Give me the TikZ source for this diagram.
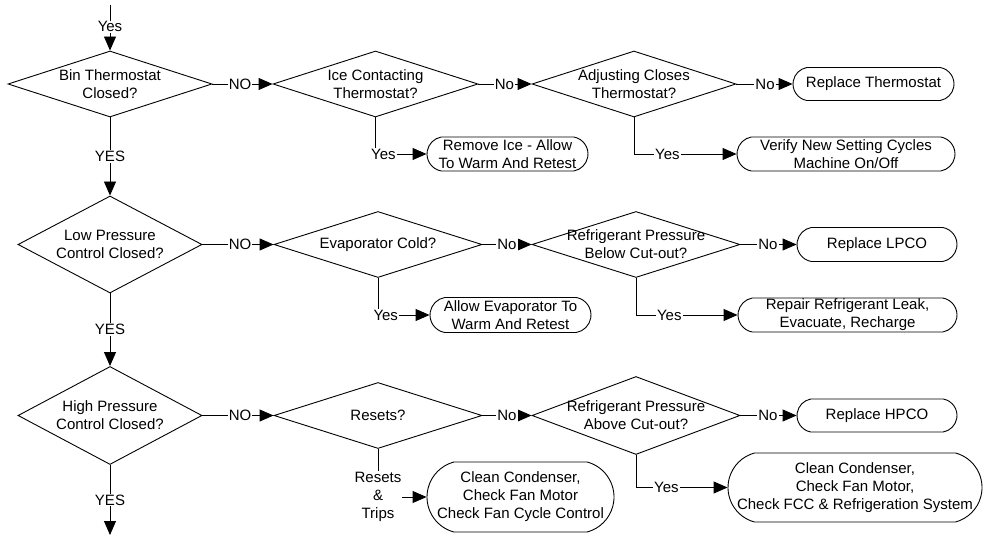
\documentclass[tikz,border=0pt]{standalone}
\usepackage{fontspec}
\setmainfont{Liberation Sans}
\usetikzlibrary{shapes.geometric,shapes.misc,arrows.meta}
\begin{document}
\begin{tikzpicture}[x=1pt,y=-1pt,
  every node/.style={font=\fontsize{15}{18}\selectfont},
  line width=0.9pt,
  decision/.style 2 args={diamond, draw, inner sep=0pt,
    minimum width=#1pt, minimum height=#2pt},
  term/.style 2 args={rounded rectangle, rounded rectangle arc length=160,
    draw, inner sep=0pt, minimum width=#1pt, minimum height=#2pt},
  bigterm/.style 2 args={term={#1}{#2}, rounded rectangle arc length=150},
  qtext/.style={align=center, inner sep=0pt},
  lbl/.style={fill=white, inner sep=1pt, align=center},
  arr/.style={-{Triangle[length=14pt,width=12pt]}}
]
\useasboundingbox (0,0) rectangle (985,537);

% ---- Bin thermostat row ----
\node[decision={204}{66}, label={[qtext]center:{Bin Thermostat\\Closed?}}] (d1) at (110,84) {};
\node[decision={205}{66}, label={[qtext]center:{Ice Contacting\\Thermostat?}}] (d2) at (375.5,84) {};
\node[decision={204}{66}, label={[qtext]center:{Adjusting Closes\\Thermostat?}}] (d3) at (634,84) {};
\node[term={161}{33}, label={[qtext]center:{Replace Thermostat}}] (rth) at (873.5,84) {};
\node[term={161}{34}, label={[qtext]center:{Remove Ice - Allow\\To Warm And Retest}}] (rem) at (507.5,154) {};
\node[term={218}{34}, label={[qtext]center:{Verify New Setting Cycles\\Machine On/Off}}] (ver) at (846,154) {};

% ---- Low pressure row ----
\node[decision={184}{97}, label={[qtext]center:{Low Pressure\\Control Closed?}}] (d4) at (110,244.5) {};
\node[decision={208}{66}, label={[qtext]center:{Evaporator Cold?}}] (d5) at (378,244.5) {};
\node[decision={208}{66}, label={[qtext]center:{Refrigerant Pressure\\Below Cut-out?}}] (d6) at (636,244.5) {};
\node[term={160}{34}, label={[qtext]center:{Replace LPCO}}] (lpco) at (877,244.5) {};
\node[term={161}{35}, label={[qtext]center:{Allow Evaporator To\\Warm And Retest}}] (allow) at (510.5,315) {};
\node[term={219}{34}, label={[qtext]center:{Repair Refrigerant Leak,\\Evacuate, Recharge}}] (repair) at (847.5,315) {};

% ---- High pressure row ----
\node[decision={184}{98}, label={[qtext]center:{High Pressure\\Control Closed?}}] (d7) at (110,415.5) {};
\node[decision={208}{66}, label={[qtext]center:{Resets?}}] (d8) at (378,415.5) {};
\node[decision={208}{78}, label={[qtext]center:{Refrigerant Pressure\\Above Cut-out?}}] (d9) at (636,415.5) {};
\node[term={160}{33}, label={[qtext]center:{Replace HPCO}}] (hpco) at (877,415.5) {};
\node[bigterm={187}{70}, label={[qtext]center:{Clean Condenser,\\Check Fan Motor\\Check Fan Cycle Control}}] (ccs) at (520.5,497) {};
\node[bigterm={254}{69}, label={[qtext]center:{Clean Condenser,\\Check Fan Motor,\\Check FCC \& Refrigeration System}}] (ccb) at (855,487.5) {};

\coordinate (top) at (110,5);
\coordinate (out) at (110,535);

% ---- connectors ----
\draw[arr] (top) -- node[lbl,pos=0.48]{Yes} (d1.north);
\draw[arr] (d1.east) -- node[lbl,pos=0.46]{NO} (d2.west);
\draw[arr] (d2.east) -- node[lbl,pos=0.49]{No} (d3.west);
\draw[arr] (d3.east) -- node[lbl,pos=0.51]{No} (rth.west);
\draw[arr] (d2.south) |- node[lbl,pos=0.578]{Yes} (rem.west);
\draw[arr] (d3.south) |- node[lbl,pos=0.663]{Yes} (ver.west);
\draw[arr] (d1.south) -- node[lbl]{YES} (d4.north);

\draw[arr] (d4.east) -- node[lbl,pos=0.53]{NO} (d5.west);
\draw[arr] (d5.east) -- node[lbl,pos=0.5]{No} (d6.west);
\draw[arr] (d6.east) -- node[lbl,pos=0.49]{No} (lpco.west);
\draw[arr] (d5.south) |- node[lbl,pos=0.575]{Yes} (allow.west);
\draw[arr] (d6.south) |- node[lbl,pos=0.664]{Yes} (repair.west);
\draw[arr] (d4.south) -- node[lbl]{YES} (d7.north);

\draw[arr] (d7.east) -- node[lbl,pos=0.53]{NO} (d8.west);
\draw[arr] (d8.east) -- node[lbl,pos=0.5]{No} (d9.west);
\draw[arr] (d9.east) -- node[lbl,pos=0.49]{No} (hpco.west);
\draw[arr] (d8.south) |- node[lbl,pos=0.5]{Resets\\\&\\Trips} (ccs.west);
\draw[arr] (d9.south) |- node[lbl,pos=0.666]{Yes} (ccb.west);
\draw[arr] (d7.south) -- node[lbl]{YES} (out);
\end{tikzpicture}
\end{document}
